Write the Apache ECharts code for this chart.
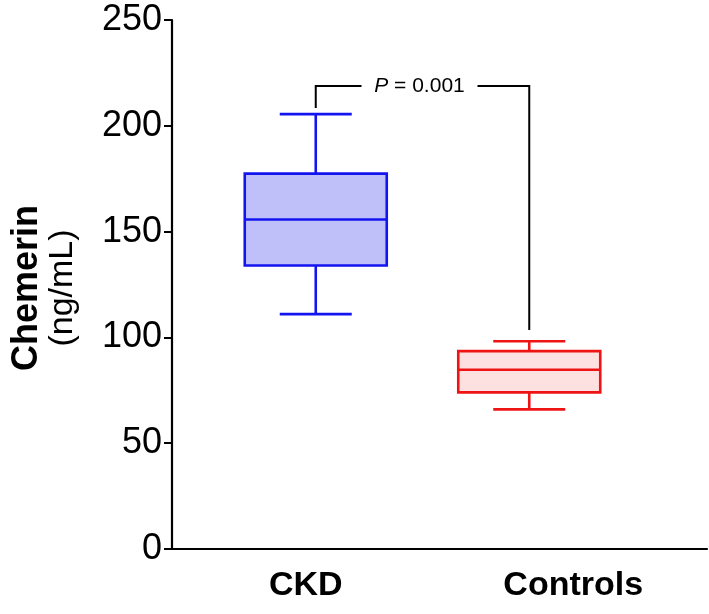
<!DOCTYPE html>
<html><head><meta charset="utf-8">
<script src="https://cdn.jsdelivr.net/npm/echarts@6/dist/echarts.min.js"></script>
<style>html,body{margin:0;padding:0;background:#fff}#c{width:709px;height:614px}</style>
</head><body><div id="c"></div>
<script>
// ---- data ----
const categories = ['CKD', 'Controls'];
const whiskerLow = [111, 66];
const quartile1 = [134, 74];
const medians = [155.7, 84.7];
const quartile3 = [177.4, 93.5];
const whiskerHigh = [205.5, 98.2];
const yTicks = [0, 50, 100, 150, 200, 250];
const pLabelItalic = 'P';
const pLabelRest = ' = 0.001';
const bracketLevel = 218.8;
const bracketEnds = [208.4, 103.5];

// ---- styles ----
const FONT = '"Liberation Sans", Arial, Helvetica, sans-serif';
const boxShift = [10, -44];
const boxHalf = 71, capHalf = 36;
const strokeColors = ['#1414f0', '#ee1414'];
const fillColors = ['#bfbffa', '#fde0e0'];

const boxData = categories.map((c, i) => [i, whiskerLow[i], quartile1[i], medians[i], quartile3[i], whiskerHigh[i]]);

function renderBox(params, api) {
  const i = api.value(0);
  const yLo = api.coord([i, api.value(1)])[1];
  const yQ1 = api.coord([i, api.value(2)])[1];
  const yMed = api.coord([i, api.value(3)])[1];
  const yQ3 = api.coord([i, api.value(4)])[1];
  const yHi = api.coord([i, api.value(5)])[1];
  const x = api.coord([i, api.value(3)])[0] + boxShift[i];
  const st = { stroke: strokeColors[i], lineWidth: 2.6, fill: null };
  return {
    type: 'group',
    children: [
      { type: 'line', shape: { x1: x, y1: yHi, x2: x, y2: yQ3 }, style: st },
      { type: 'line', shape: { x1: x, y1: yQ1, x2: x, y2: yLo }, style: st },
      { type: 'line', shape: { x1: x - capHalf, y1: yHi, x2: x + capHalf, y2: yHi }, style: st },
      { type: 'line', shape: { x1: x - capHalf, y1: yLo, x2: x + capHalf, y2: yLo }, style: st },
      { type: 'rect', shape: { x: x - boxHalf, y: yQ3, width: 2 * boxHalf, height: yQ1 - yQ3 },
        style: { fill: fillColors[i], stroke: strokeColors[i], lineWidth: 2.6 } },
      { type: 'line', shape: { x1: x - boxHalf, y1: yMed, x2: x + boxHalf, y2: yMed }, style: st }
    ]
  };
}

function renderBracket(params, api) {
  const yTop = api.coord([0, api.value(0)])[1];
  const yL = api.coord([0, api.value(1)])[1];
  const yR = api.coord([1, api.value(2)])[1];
  const xL = api.coord([0, api.value(0)])[0] + boxShift[0];
  const xR = api.coord([1, api.value(0)])[0] + boxShift[1];
  const mid = (xL + xR) / 2 - 3;
  const gap = 58;
  const st = { stroke: '#000', lineWidth: 2, fill: null };
  return {
    type: 'group',
    children: [
      { type: 'polyline', shape: { points: [[xL, yL], [xL, yTop], [mid - gap, yTop]] }, style: st },
      { type: 'polyline', shape: { points: [[mid + gap, yTop], [xR, yTop], [xR, yR]] }, style: st },
      { type: 'text', x: mid, y: yTop,
        style: { text: '{i|' + pLabelItalic + '}{r|' + pLabelRest + '}', align: 'center', verticalAlign: 'middle',
          rich: { i: { fontStyle: 'italic', fontSize: 21, fontFamily: FONT, fill: '#000' },
                  r: { fontSize: 21, fontFamily: FONT, fill: '#000' } } } }
    ]
  };
}

const chart = echarts.init(document.getElementById('c'), null, { renderer: 'canvas' });
chart.setOption({
  animation: false,
  backgroundColor: '#fff',
  grid: { left: 172, right: 2, top: 20, bottom: 65, containLabel: false },
  xAxis: {
    type: 'category',
    data: categories,
    axisLine: { lineStyle: { color: '#000', width: 2.2 } },
    axisTick: { alignWithLabel: true, length: 8, lineStyle: { color: '#000', width: 2 } },
    axisLabel: { color: '#000', fontFamily: FONT, fontWeight: 'bold', fontSize: 34, margin: 20 },
    splitLine: { show: false }
  },
  yAxis: {
    type: 'value',
    min: yTicks[0], max: yTicks[yTicks.length - 1], interval: yTicks[1] - yTicks[0],
    axisLine: { show: true, lineStyle: { color: '#000', width: 2.2 } },
    axisTick: { show: true, length: 8, lineStyle: { color: '#000', width: 2 } },
    axisLabel: { color: '#000', fontFamily: FONT, fontSize: 36, margin: 10 },
    splitLine: { show: false }
  },
  graphic: [
    { type: 'text', x: 27, y: 288, rotation: Math.PI / 2,
      style: { text: 'Chemerin', font: 'bold 36px ' + FONT, fill: '#000', align: 'center', verticalAlign: 'middle' } },
    { type: 'text', x: 63, y: 288, rotation: Math.PI / 2,
      style: { text: '(ng/mL)', font: '34px ' + FONT, fill: '#000', align: 'center', verticalAlign: 'middle' } }
  ],
  series: [
    { type: 'custom', renderItem: renderBox, data: boxData, encode: { x: 0, y: [1, 2, 3, 4, 5] }, z: 3 },
    { type: 'custom', renderItem: renderBracket, data: [[bracketLevel, bracketEnds[0], bracketEnds[1]]],
      encode: { y: [0, 1, 2] }, z: 4 }
  ]
});
</script></body></html>
